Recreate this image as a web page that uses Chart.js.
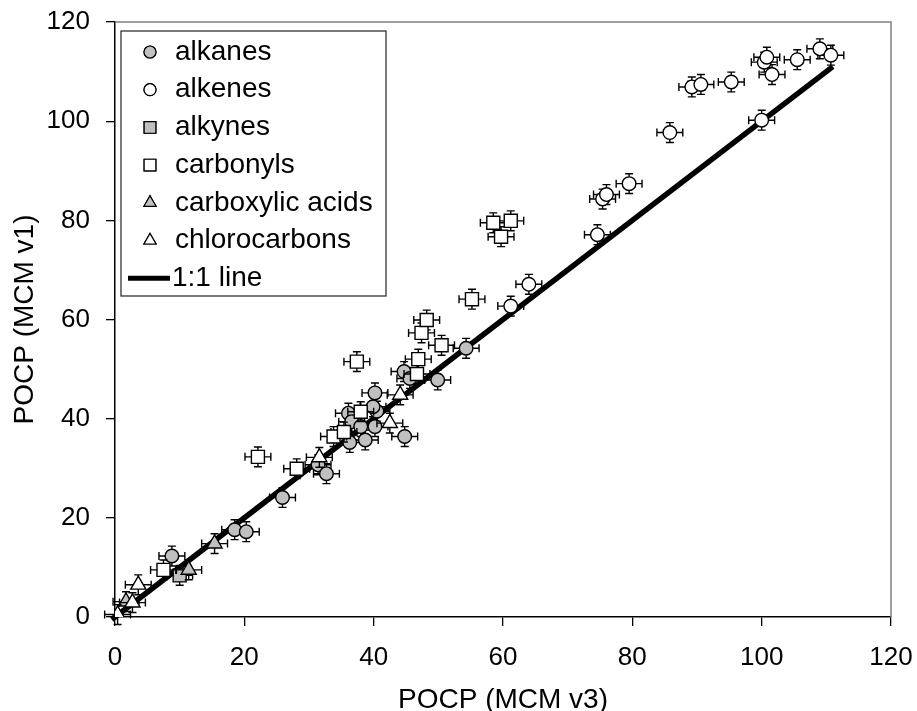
<!DOCTYPE html>
<html>
<head>
<meta charset="utf-8">
<title>POCP MCM v3 vs MCM v1</title>
<script src="https://cdn.jsdelivr.net/npm/chart.js@4/dist/chart.umd.min.js"></script>
<style>
  html, body { margin: 0; padding: 0; background: #fff; }
  canvas { display: block; }
</style>
</head>
<body>
<canvas id="pocpChart" width="917" height="711"></canvas>
<script>
// POCP values: x = MCM v3, y = MCM v1
const alkanesX = [8.8, 18.5, 20.3, 25.9, 31.4, 32.7, 36.3, 36.1, 36.6, 38.0, 38.7, 40.2, 40.5, 39.9, 40.2, 44.8, 44.7, 45.6, 49.9, 54.3];
const alkanesY = [12.3, 17.6, 17.2, 24.1, 30.7, 28.9, 35.2, 41.1, 39.4, 38.4, 35.7, 38.4, 41.5, 42.4, 45.2, 36.4, 49.5, 48.1, 47.8, 54.2];

const alkenesX = [61.2, 64.0, 74.6, 75.4, 76.0, 79.5, 85.8, 89.2, 90.6, 95.3, 100.0, 100.4, 100.8, 101.6, 105.5, 109.0, 110.7];
const alkenesY = [62.7, 67.1, 77.1, 84.3, 85.2, 87.4, 97.7, 106.9, 107.4, 107.9, 100.2, 111.9, 112.9, 109.4, 112.4, 114.6, 113.3];

const alkynesX = [10.0];
const alkynesY = [8.4];

const carbonylsX = [7.5, 22.1, 28.1, 33.8, 35.4, 38.0, 37.4, 46.7, 46.9, 47.4, 48.2, 50.5, 55.2, 58.5, 61.2, 59.7];
const carbonylsY = [9.5, 32.3, 29.9, 36.4, 37.3, 41.4, 51.5, 49.0, 52.0, 57.3, 59.9, 54.8, 64.1, 79.5, 79.9, 76.7];

const acidsX = [1.7, 11.4, 15.4];
const acidsY = [3.1, 9.5, 14.8];

const chloroX = [0.4, 2.7, 3.6, 31.6, 42.5, 44.1];
const chloroY = [0.5, 2.9, 6.5, 32.2, 39.1, 44.8];

const oneToOneX = [-0.5, 111];
const oneToOneY = [-0.5, 111];

const X_ERR = 2;
const Y_ERR = 2;

const axisTicks = [0, 20, 40, 60, 80, 100, 120];

const FONT = 'Liberation Sans, Arial, sans-serif';
const GRAY = '#c0c0c0';

const toPoints = (xs, ys) => xs.map((x, i) => ({ x: x, y: ys[i] }));

// draws horizontal + vertical error bars of a dataset just under its markers
const errorBars = {
    id: 'errorBars',
    beforeDatasetDraw(chart, args) {
        const ds = chart.data.datasets[args.index];
        if (!ds.errorBars) return;
        const xs = chart.scales.x, ys = chart.scales.y;
        const ctx = chart.ctx;
        const cap = 4;
        ctx.save();
        ctx.strokeStyle = '#000';
        ctx.lineWidth = 1.4;
        ds.data.forEach(p => {
            const px = xs.getPixelForValue(p.x);
            const py = ys.getPixelForValue(p.y);
            const xl = xs.getPixelForValue(p.x - X_ERR);
            const xr = xs.getPixelForValue(p.x + X_ERR);
            const yt = ys.getPixelForValue(p.y + Y_ERR);
            const yb = ys.getPixelForValue(p.y - Y_ERR);
            ctx.beginPath();
            ctx.moveTo(xl, py); ctx.lineTo(xr, py);
            ctx.moveTo(xl, py - cap); ctx.lineTo(xl, py + cap);
            ctx.moveTo(xr, py - cap); ctx.lineTo(xr, py + cap);
            ctx.moveTo(px, yt); ctx.lineTo(px, yb);
            ctx.moveTo(px - cap, yt); ctx.lineTo(px + cap, yt);
            ctx.moveTo(px - cap, yb); ctx.lineTo(px + cap, yb);
            ctx.stroke();
        });
        ctx.restore();
    }
};

// gray frame on top/right of plot area + legend box in the upper left
const frameAndLegend = {
    id: 'frameAndLegend',
    afterDraw(chart) {
        const ctx = chart.ctx;
        const a = chart.chartArea;
        ctx.save();
        ctx.strokeStyle = '#808080';
        ctx.lineWidth = 1.5;
        ctx.beginPath();
        ctx.moveTo(a.left, a.top);
        ctx.lineTo(a.right, a.top);
        ctx.lineTo(a.right, a.bottom);
        ctx.stroke();

        const boxL = a.left + 6, boxT = a.top + 9, boxW = 265, boxH = 265;
        ctx.fillStyle = '#fff';
        ctx.fillRect(boxL, boxT, boxW, boxH);
        ctx.strokeStyle = '#222';
        ctx.lineWidth = 1.2;
        ctx.strokeRect(boxL, boxT, boxW, boxH);

        const rowH = 37.7;
        const markX = boxL + 29;
        const textX = boxL + 54;
        ctx.font = '28px ' + FONT;
        ctx.textBaseline = 'middle';
        ctx.textAlign = 'left';
        chart.data.datasets.forEach((ds, i) => {
            const y = boxT + 21 + i * rowH;
            if (ds.isLine) {
                ctx.strokeStyle = '#000';
                ctx.lineWidth = 5;
                ctx.beginPath();
                ctx.moveTo(boxL + 7, y);
                ctx.lineTo(boxL + 49, y);
                ctx.stroke();
                ctx.fillStyle = '#000';
                ctx.fillText(ds.label, boxL + 51, y);
                return;
            }
            Chart.helpers.drawPoint(ctx, {
                pointStyle: ds.pointStyle,
                radius: ds.legendRadius,
                rotation: 0,
                borderWidth: 1.2
            }, markX, y);
            ctx.fillStyle = ds.backgroundColor;
            ctx.strokeStyle = '#000';
            ctx.lineWidth = 1.2;
            ctx.fill();
            ctx.stroke();
            ctx.fillStyle = '#000';
            ctx.fillText(ds.label, textX, y);
        });
        ctx.restore();
    }
};

function series(label, xs, ys, style, fill, radius, legendRadius, order) {
    return {
        label: label,
        data: toPoints(xs, ys),
        pointStyle: style,
        backgroundColor: fill,
        borderColor: '#000',
        borderWidth: 1.4,
        pointRadius: radius,
        legendRadius: legendRadius,
        errorBars: true,
        order: order
    };
}

// keep the plot area fixed: no extra room for overhanging tick labels
function noLabelPadding(s) {
    s.paddingTop = 0;
    s.paddingBottom = 0;
    s.paddingLeft = 0;
    s.paddingRight = 0;
}

const ctx = document.getElementById('pocpChart').getContext('2d');
new Chart(ctx, {
    type: 'scatter',
    data: {
        datasets: [
            series('alkanes', alkanesX, alkanesY, 'circle', GRAY, 6.8, 6, 6),
            series('alkenes', alkenesX, alkenesY, 'circle', '#fff', 6.8, 6, 5),
            series('alkynes', alkynesX, alkynesY, 'rect', GRAY, 9.2, 8.3, 4),
            series('carbonyls', carbonylsX, carbonylsY, 'rect', '#fff', 9.2, 8.3, 3),
            series('carboxylic acids', acidsX, acidsY, 'triangle', GRAY, 8.7, 7, 2),
            series('chlorocarbons', chloroX, chloroY, 'triangle', '#fff', 8.7, 7, 1),
            {
                label: '1:1 line',
                isLine: true,
                data: toPoints(oneToOneX, oneToOneY),
                showLine: true,
                borderColor: '#000',
                borderWidth: 5.5,
                pointRadius: 0,
                clip: false,
                order: 7
            }
        ]
    },
    options: {
        responsive: false,
        animation: false,
        events: [],
        layout: { padding: { top: 22, right: 26, left: 0, bottom: 0 } },
        plugins: {
            legend: { display: false },
            tooltip: { enabled: false }
        },
        scales: {
            x: {
                type: 'linear',
                min: 0,
                max: 120,
                afterBuildTicks: s => { s.ticks = axisTicks.map(v => ({ value: v })); },
                afterFit: s => { s.height = 94; noLabelPadding(s); },
                ticks: { color: '#000', padding: 16, font: { family: FONT, size: 26 } },
                grid: { drawOnChartArea: false, tickLength: 9, color: '#000', lineWidth: 1.3 },
                border: { color: '#000', width: 1.5 },
                title: {
                    display: true,
                    text: 'POCP (MCM v3)',
                    color: '#000',
                    font: { family: FONT, size: 28, lineHeight: 0.8 },
                    padding: { top: 0, bottom: 0 }
                }
            },
            y: {
                type: 'linear',
                min: 0,
                max: 120,
                afterBuildTicks: s => { s.ticks = axisTicks.map(v => ({ value: v })); },
                afterFit: s => { s.width = 115; noLabelPadding(s); },
                ticks: { color: '#000', padding: 16, font: { family: FONT, size: 26 } },
                grid: { drawOnChartArea: false, tickLength: 9, color: '#000', lineWidth: 1.3 },
                border: { color: '#000', width: 1.5 },
                title: {
                    display: true,
                    text: 'POCP (MCM v1)',
                    color: '#000',
                    font: { family: FONT, size: 28 },
                    padding: { top: 8, bottom: 0 }
                }
            }
        }
    },
    plugins: [errorBars, frameAndLegend]
});
</script>
</body>
</html>
